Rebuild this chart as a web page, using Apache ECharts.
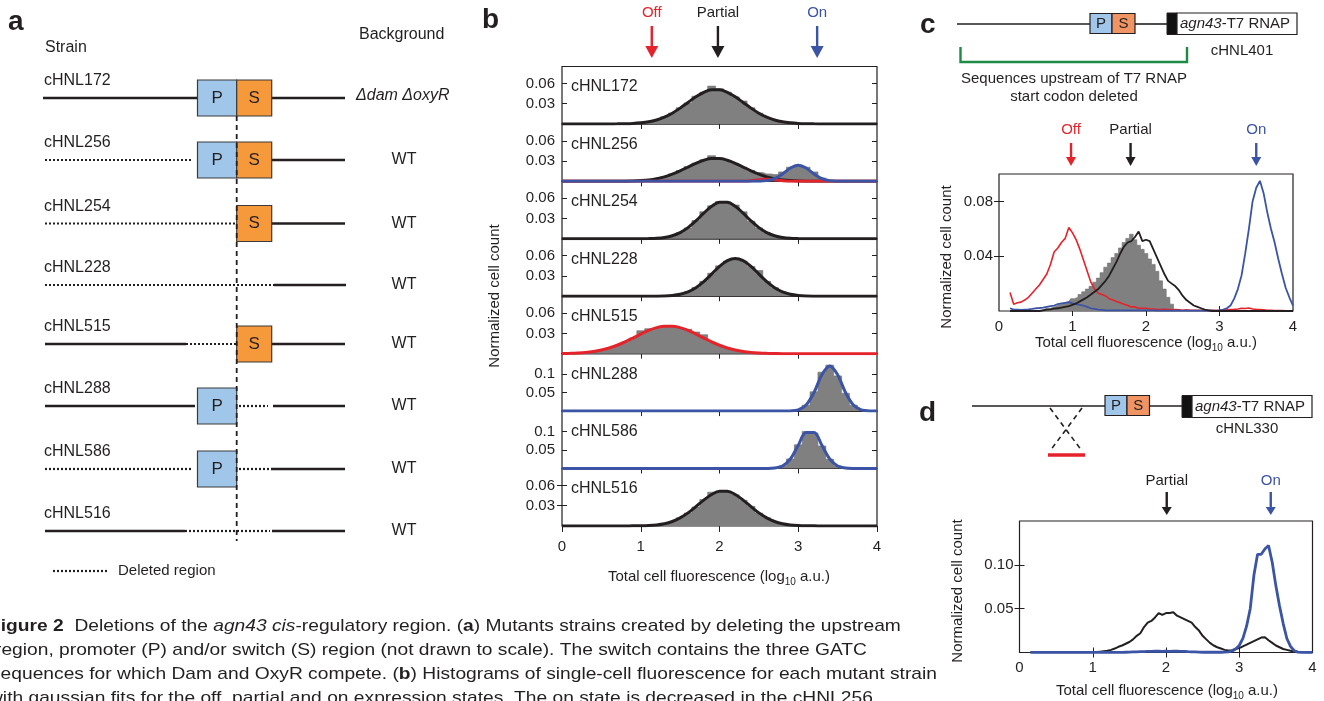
<!DOCTYPE html>
<html>
<head>
<meta charset="utf-8">
<script src="https://cdn.jsdelivr.net/npm/echarts@6.0.0/dist/echarts.min.js"></script>
<style>html,body{margin:0;padding:0;background:#fff;overflow:hidden}#chart{width:1324px;height:701px}</style>
</head>
<body>
<div id="chart"></div>
<script>
// ================= DATA =================
// Panel b: x positions (log10 a.u.) shared by all eight histograms and fits
const XB = [0,0.1,0.2,0.3,0.4,0.5,0.6,0.7,0.8,0.9,1,1.1,1.2,1.3,1.4,1.5,1.6,1.7,1.8,1.9,2,2.1,2.2,2.3,2.4,2.5,2.6,2.7,2.8,2.9,3,3.1,3.2,3.3,3.4,3.5,3.6,3.7,3.8,3.9,4];
const STRAINS = ['cHNL172','cHNL256','cHNL254','cHNL228','cHNL515','cHNL288','cHNL586','cHNL516'];
const BACKGROUNDS = ['\u0394dam \u0394oxyR','WT','WT','WT','WT','WT','WT','WT'];

const HIST_172 = [0,0,0,0,0,0,0,0,0,0.0006,0.0015,0.003,0.006,0.0105,0.016,0.024,0.031,0.041,0.047,0.056,0.052,0.047,0.040,0.034,0.024,0.016,0.0095,0.0055,0.003,0.0015,0.0006,0,0,0,0,0,0,0,0,0,0];
const FIT_172  = [0,0,0,0,0,0,0,0.0001,0.0003,0.0007,0.0016,0.0031,0.0058,0.0100,0.0159,0.0234,0.0318,0.0401,0.0468,0.0505,0.0505,0.0468,0.0401,0.0318,0.0234,0.0159,0.0100,0.0058,0.0031,0.0016,0.0007,0.0003,0.0001,0,0,0,0,0,0,0,0];

const HIST_256 = [0,0,0,0,0,0,0,0,0,0.0004,0.001,0.002,0.004,0.007,0.011,0.016,0.022,0.027,0.032,0.038,0.034,0.031,0.026,0.021,0.016,0.013,0.011,0.010,0.014,0.021,0.024,0.021,0.014,0.005,0.0012,0.0003,0,0,0,0,0];
const FIT_256_PARTIAL = [0,0,0,0,0,0,0,0.0001,0.0002,0.0005,0.0011,0.0021,0.0039,0.0067,0.0106,0.0156,0.0212,0.0267,0.0312,0.0337,0.0337,0.0312,0.0267,0.0212,0.0156,0.0106,0.0067,0.0039,0.0021,0.0011,0.0005,0.0002,0.0001,0,0,0,0,0,0,0,0];
const FIT_256_OFF = [0,0,0,0,0,0,0,0,0,0,0,0,0,0,0,0,0,0,0,0,0,0,0,0,0.001,0.0025,0.003,0.0025,0.001,0,0,0,0,0,0,0,0,0,0,0,0];
const FIT_256_ON = [0,0,0,0,0,0,0,0,0,0,0,0,0,0,0,0,0,0,0,0,0,0,0,0,0,0.0002,0.0011,0.0041,0.011,0.0198,0.024,0.0198,0.011,0.0041,0.0011,0.0002,0,0,0,0,0];

const HIST_254 = [0,0,0,0,0,0,0,0,0,0,0,0,0.0006,0.002,0.0045,0.009,0.016,0.027,0.040,0.049,0.055,0.053,0.050,0.040,0.026,0.016,0.009,0.0045,0.002,0.0006,0,0,0,0,0,0,0,0,0,0,0];
const FIT_254  = [0,0,0,0,0,0,0,0,0,0,0.0001,0.0003,0.0007,0.0019,0.0045,0.0091,0.0165,0.0265,0.0379,0.0481,0.0542,0.0542,0.0481,0.0379,0.0265,0.0165,0.0091,0.0045,0.0019,0.0007,0.0003,0.0001,0,0,0,0,0,0,0,0,0];

const HIST_228 = [0,0,0,0,0,0,0,0,0,0,0,0,0,0,0.001,0.003,0.0065,0.013,0.022,0.034,0.045,0.052,0.055,0.052,0.044,0.038,0.022,0.0125,0.0065,0.003,0.001,0,0,0,0,0,0,0,0,0,0];
const FIT_228  = [0,0,0,0,0,0,0,0,0,0,0,0,0.0001,0.0004,0.0012,0.003,0.0066,0.0127,0.0216,0.0328,0.0441,0.0528,0.056,0.0528,0.0441,0.0328,0.0216,0.0127,0.0066,0.003,0.0012,0.0004,0.0001,0,0,0,0,0,0,0,0];

const HIST_515 = [0,0,0,0.001,0.003,0.005,0.008,0.012,0.017,0.023,0.034,0.037,0.039,0.041,0.040,0.038,0.036,0.032,0.028,0.017,0.012,0.008,0.005,0.003,0.0015,0.0008,0,0,0,0,0,0,0,0,0,0,0,0,0,0,0];
const FIT_515  = [0.0002,0.0005,0.001,0.0018,0.0032,0.0053,0.0083,0.0124,0.0174,0.0231,0.029,0.0344,0.0385,0.0407,0.0407,0.0385,0.0344,0.029,0.0231,0.0174,0.0124,0.0083,0.0053,0.0032,0.0018,0.001,0.0005,0.0002,0,0,0,0,0,0,0,0,0,0,0,0,0];

const HIST_288 = [0,0,0,0,0,0,0,0,0,0,0,0,0,0,0,0,0,0,0,0,0,0,0,0,0,0,0,0,0,0,0.003,0.016,0.052,0.105,0.124,0.095,0.048,0.016,0.003,0,0];
const FIT_288  = [0,0,0,0,0,0,0,0,0,0,0,0,0,0,0,0,0,0,0,0,0,0,0,0,0,0,0,0,0,0.0005,0.0035,0.0165,0.050,0.098,0.122,0.098,0.050,0.0165,0.0035,0.0005,0];

const HIST_586 = [0,0,0,0,0,0,0,0,0,0,0,0,0,0,0,0,0,0,0,0,0,0,0,0,0,0,0,0.001,0.007,0.026,0.064,0.100,0.096,0.061,0.025,0.007,0.001,0,0,0,0];
const FIT_586  = [0,0,0,0,0,0,0,0,0,0,0,0,0,0,0,0,0,0,0,0,0,0,0,0,0,0,0.0001,0.0011,0.0068,0.0256,0.0625,0.0974,0.0974,0.0625,0.0256,0.0068,0.0011,0.0001,0,0,0];

const HIST_516 = [0,0,0,0,0,0,0,0,0,0,0,0.0005,0.0015,0.003,0.0065,0.012,0.019,0.028,0.039,0.050,0.052,0.051,0.046,0.038,0.029,0.019,0.012,0.0065,0.003,0.0015,0.0005,0,0,0,0,0,0,0,0,0,0];
const FIT_516  = [0,0,0,0,0,0,0,0,0,0.0001,0.0002,0.0006,0.0015,0.0033,0.0066,0.0119,0.0193,0.0286,0.0383,0.0466,0.0514,0.0514,0.0466,0.0383,0.0286,0.0193,0.0119,0.0066,0.0033,0.0015,0.0006,0.0002,0.0001,0,0,0,0,0,0,0,0];

// Panels c and d: x positions shared by their curves
const XC = [0.15,0.2,0.25,0.3,0.35,0.4,0.45,0.5,0.55,0.6,
            0.65,0.7,0.75,0.8,0.85,0.9,0.95,1,1.05,1.1,
            1.15,1.2,1.25,1.3,1.35,1.4,1.45,1.5,1.55,1.6,
            1.65,1.7,1.75,1.8,1.85,1.9,1.95,2,2.05,2.1,
            2.15,2.2,2.25,2.3,2.35,2.4,2.45,2.5,2.55,2.6,
            2.65,2.7,2.75,2.8,2.85,2.9,2.95,3,3.05,3.1,
            3.15,3.2,3.25,3.3,3.35,3.4,3.45,3.5,3.55,3.6,
            3.65,3.7,3.75,3.8,3.85,3.9,3.95,4];
const HIST_C = [0,0,0,0,0,0,0,0,0,0.001,
                0.002,0.002,0.003,0.004,0.005,0.006,0.007,0.009,0.010,0.012,
                0.014,0.016,0.018,0.021,0.024,0.028,0.032,0.035,0.039,0.042,
                0.046,0.050,0.053,0.056,0.052,0.048,0.045,0.042,0.038,0.034,
                0.029,0.022,0.016,0.010,0.005,0.001,0,0,0,0,
                0,0,0,0,0,0,0,0,0,0,
                0,0,0,0,0,0,0,0,0,0,
                0,0,0,0,0,0,0,0];
const OFF_C = [0.0135,0.005,0.006,0.0065,0.008,0.010,0.013,0.016,0.019,0.023,
               0.027,0.034,0.043,0.046,0.050,0.053,0.061,0.057,0.052,0.045,
               0.037,0.029,0.021,0.016,0.013,0.012,0.011,0.009,0.008,0.007,
               0.006,0.005,0.004,0.003,0.003,0.002,0.002,0.002,0.0015,0.0015,
               0.001,0.001,0.0012,0.001,0.0008,0.001,0.0008,0.0006,0.0008,0.0006,
               0.0005,0.0006,0.0005,0.0005,0.0004,0.0005,0.0004,0.0005,0.0006,0.0008,
               0.001,0.0012,0.0015,0.002,0.0018,0.0022,0.0015,0.0012,0.001,0.0008,
               0.0006,0.0005,0.0004,0.0003,0.0003,0.0002,0.0002,0.0002];
const PARTIAL_C = [0,0,0,0,0,0,0,0,0,0.0005,
                   0.001,0.0012,0.0018,0.002,0.0025,0.003,0.0035,0.0045,0.0055,0.007,
                   0.0085,0.010,0.012,0.014,0.016,0.019,0.022,0.026,0.031,0.036,
                   0.042,0.047,0.050,0.051,0.054,0.058,0.051,0.052,0.051,0.045,
                   0.039,0.033,0.027,0.022,0.020,0.018,0.015,0.011,0.008,0.006,
                   0.004,0.003,0.002,0.001,0.0005,0,0,0,0,0,
                   0,0,0,0,0,0,0,0,0,0,
                   0,0,0,0,0,0,0,0];
const ON_C = [0.002,0.001,0.001,0.0008,0.001,0.0012,0.0015,0.002,0.0022,0.0025,
              0.003,0.0035,0.004,0.005,0.0055,0.006,0.0065,0.0055,0.005,0.0045,
              0.004,0.003,0.002,0.0015,0.001,0.0008,0.0005,0.0005,0.0004,0.0004,
              0.0004,0.0004,0.0004,0.0004,0.0004,0.0004,0.0004,0.0004,0.0004,0.0004,
              0.0003,0.0003,0.0003,0.0003,0.0003,0.0003,0.0003,0.0003,0.0003,0.0003,
              0.0003,0.0003,0.0003,0.0003,0.0003,0.0003,0.0003,0.0005,0.001,0.002,
              0.004,0.009,0.016,0.026,0.042,0.060,0.080,0.090,0.095,0.086,
              0.072,0.060,0.050,0.038,0.027,0.017,0.010,0.004];
const PARTIAL_D = [0.0002,0.0002,0.0002,0.0002,0.0002,0.0002,0.0002,0.0002,0.0002,0.0002,
                   0.0002,0.0002,0.0002,0.0002,0.0002,0.0002,0.0002,0.0003,0.0005,0.001,
                   0.0015,0.002,0.003,0.0045,0.0065,0.008,0.010,0.012,0.015,0.019,
                   0.022,0.029,0.034,0.036,0.040,0.045,0.043,0.045,0.045,0.046,
                   0.042,0.040,0.038,0.036,0.034,0.029,0.025,0.019,0.015,0.011,
                   0.008,0.006,0.0045,0.003,0.0023,0.0025,0.004,0.005,0.007,0.009,
                   0.011,0.013,0.015,0.017,0.0175,0.014,0.011,0.008,0.006,0.004,
                   0.003,0.002,0.0012,0.0008,0.0005,0.0003,0.0002,0.0001];
const ON_D = [0.0002,0.0002,0.0002,0.0002,0.0002,0.0002,0.0002,0.0002,0.0002,0.0002,
              0.0002,0.0002,0.0002,0.0002,0.0002,0.0002,0.0002,0.0002,0.0002,0.0002,
              0.0002,0.0002,0.0002,0.0002,0.0002,0.0002,0.0003,0.0004,0.0006,0.0008,
              0.001,0.001,0.0012,0.0012,0.0015,0.0014,0.0013,0.0015,0.0012,0.0014,
              0.0015,0.0012,0.0013,0.001,0.0008,0.0006,0.0004,0.0003,0.0003,0.0003,
              0.0003,0.0003,0.0003,0.0004,0.0008,0.0015,0.004,0.008,0.016,0.030,
              0.050,0.088,0.112,0.112,0.118,0.122,0.103,0.076,0.053,0.033,
              0.016,0.007,0.002,0.0005,0.0002,0.0002,0.0002,0.0002];

// Tick values / labels
const X_TICKS = [0,1,2,3,4];
const X_INNER_TICKS = [1,2,3];
const Y_TICKS_B_SMALL = [0.03,0.06];
const Y_TICKS_B_LARGE = [0.05,0.1];
const Y_TICKS_C = [0.04,0.08];
const Y_TICKS_D = [0.05,0.10];
const STATE_LABELS = ['Off','Partial','On'];
const ARROW_B = [1.14,1.98,3.24];
const ARROW_C = [0.98,1.79,3.5];
const ARROW_D = [2.01,3.43];   // Partial, On

// ================= STYLE / LAYOUT =================
const INK='#231f20', RED='#e5232b', BLUE='#3b54a5', GRAY='#808080', GREEN='#1e8b45';
const PBLUE='#a0c7ea', SORANGE='#f5993b', SSALMON='#f19463';
const FONT='"Liberation Sans", Arial, Helvetica, sans-serif';
const CAPFONT='"Liberation Sans", Arial, Helvetica, sans-serif';
const STATE_COLORS=[RED,INK,BLUE];

function zip(xs,ys){return xs.map((x,i)=>[x,ys[i]]);}

const PANELS=[
  {hist:HIST_172,fits:[[FIT_172,INK]],ymax:0.085,yt:Y_TICKS_B_SMALL},
  {hist:HIST_256,fits:[[FIT_256_PARTIAL,INK],[FIT_256_OFF,RED],[FIT_256_ON,BLUE]],ymax:0.085,yt:Y_TICKS_B_SMALL},
  {hist:HIST_254,fits:[[FIT_254,INK]],ymax:0.085,yt:Y_TICKS_B_SMALL},
  {hist:HIST_228,fits:[[FIT_228,INK]],ymax:0.085,yt:Y_TICKS_B_SMALL},
  {hist:HIST_515,fits:[[FIT_515,RED]],ymax:0.085,yt:Y_TICKS_B_SMALL},
  {hist:HIST_288,fits:[[FIT_288,BLUE]],ymax:0.155,yt:Y_TICKS_B_LARGE},
  {hist:HIST_586,fits:[[FIT_586,BLUE]],ymax:0.155,yt:Y_TICKS_B_LARGE},
  {hist:HIST_516,fits:[[FIT_516,INK]],ymax:0.085,yt:Y_TICKS_B_SMALL}
];

const grids=[],xAxes=[],yAxes=[],series=[];
function xAxisDef(gi,pos,ticks,labels,inside,len,margin){
  return {gridIndex:gi,type:'value',min:0,max:4,position:pos,
    axisLine:{show:false},splitLine:{show:false},
    axisTick:{show:true,inside:inside,length:len,lineStyle:{color:INK,width:1},customValues:ticks},
    axisLabel:labels?{show:true,customValues:labels,color:INK,fontSize:15,fontFamily:FONT,margin:margin}:{show:false}};
}
function yAxisDef(gi,pos,max,ticks,showLabels,fmt,margin){
  return {gridIndex:gi,type:'value',min:0,max:max,position:pos,
    axisLine:{show:false},splitLine:{show:false},
    axisTick:{show:true,inside:true,length:5,lineStyle:{color:INK,width:1},customValues:ticks},
    axisLabel:showLabels?{show:true,customValues:ticks,color:INK,fontSize:15,fontFamily:FONT,margin:margin,formatter:fmt}:{show:false}};
}
function histSeries(xs,ys,xi,yi){
  return {type:'line',xAxisIndex:xi,yAxisIndex:yi,data:zip(xs,ys),step:'middle',symbol:'none',silent:true,
    lineStyle:{width:0.6,color:'#707070'},areaStyle:{color:GRAY,opacity:1},z:2};
}
function curveSeries(xs,ys,color,xi,yi,w,smooth){
  return {type:'line',xAxisIndex:xi,yAxisIndex:yi,data:zip(xs,ys),symbol:'none',silent:true,smooth:smooth,
    lineStyle:{width:w,color:color},z:3};
}

const B_LEFT=562,B_W=315,B_TOP=66.5,B_H=57.43;
const xIdx={};
PANELS.forEach((p,i)=>{
  grids.push({left:B_LEFT,top:B_TOP+i*B_H,width:B_W,height:B_H,show:true,borderColor:INK,borderWidth:1.2,backgroundColor:'rgba(0,0,0,0)',containLabel:false,outerBoundsMode:'none'});
  const xi=xAxes.length;
  xAxes.push(xAxisDef(i,'top',X_INNER_TICKS,null,true,5,0));
  if(i===PANELS.length-1) xAxes.push(xAxisDef(i,'bottom',X_TICKS,X_TICKS,false,6,13));
  const yi=yAxes.length;
  yAxes.push(yAxisDef(i,'left',p.ymax,p.yt,true,v=>String(v),7));
  yAxes.push(yAxisDef(i,'right',p.ymax,p.yt,false,null,0));
  if(i===0) xIdx.b=xi;
  series.push(histSeries(XB,p.hist,xi,yi));
  p.fits.forEach(f=>series.push(curveSeries(XB,f[0],f[1],xi,yi,3,0.35)));
});

// panel c
const C_GRID={left:999,top:174,width:294,height:137};
grids.push(Object.assign({show:true,borderColor:INK,borderWidth:1.2,containLabel:false,outerBoundsMode:'none'},C_GRID));
let gi=grids.length-1;
xIdx.c=xAxes.length;
xAxes.push(xAxisDef(gi,'bottom',X_INNER_TICKS,X_TICKS,true,5,8));
xAxes.push(xAxisDef(gi,'top',X_INNER_TICKS,null,true,5,0));
let yi=yAxes.length;
yAxes.push(yAxisDef(gi,'left',0.1,Y_TICKS_C,true,v=>v.toFixed(2),6));
yAxes.push(yAxisDef(gi,'right',0.1,Y_TICKS_C,false,null,0));
series.push(histSeries(XC,HIST_C,xIdx.c,yi));
series.push(curveSeries(XC,OFF_C,RED,xIdx.c,yi,1.6,false));
series.push(curveSeries(XC,ON_C,BLUE,xIdx.c,yi,1.8,false));
series.push(curveSeries(XC,PARTIAL_C,INK,xIdx.c,yi,1.8,false));

// panel d
const D_GRID={left:1019.5,top:521,width:293,height:131.5};
grids.push(Object.assign({show:true,borderColor:INK,borderWidth:1.2,containLabel:false,outerBoundsMode:'none'},D_GRID));
gi=grids.length-1;
xIdx.d=xAxes.length;
xAxes.push(xAxisDef(gi,'bottom',X_INNER_TICKS,X_TICKS,true,5,8));
xAxes.push(xAxisDef(gi,'top',X_INNER_TICKS,null,true,5,0));
yi=yAxes.length;
yAxes.push(yAxisDef(gi,'left',0.15,Y_TICKS_D,true,v=>v.toFixed(2),6));
yAxes.push(yAxisDef(gi,'right',0.15,Y_TICKS_D,false,null,0));
series.push(curveSeries(XC,PARTIAL_D,INK,xIdx.d,yi,2,false));
series.push(curveSeries(XC,ON_D,BLUE,xIdx.d,yi,2.8,false));

const chart=echarts.init(document.getElementById('chart'),null,{renderer:'canvas',width:1324,height:701});
chart.setOption({animation:false,backgroundColor:'#ffffff',textStyle:{fontFamily:FONT},
  grid:grids,xAxis:xAxes,yAxis:yAxes,series:series});

// ================= ANNOTATIONS (graphic) =================
const G=[];
function txt(x,y,text,o){o=o||{};
  const st={text:text,fill:o.color||INK,fontSize:o.size||16,fontFamily:o.family||FONT,fontWeight:o.weight||'normal',fontStyle:o.fstyle||'normal',
    align:o.align||'left',textAlign:o.align||'left',verticalAlign:'middle',textVerticalAlign:'middle'};
  if(o.rich) st.rich=o.rich;
  if(o.lineHeight) st.lineHeight=o.lineHeight;
  const el={type:'text',x:x,y:y,rotation:o.rotation||0,silent:true,z:100,style:st};
  if(o.scaleX) el.scaleX=o.scaleX;
  G.push(el);
}
function seg(x1,y1,x2,y2,color,w,dash){const st={stroke:color,lineWidth:w};if(dash)st.lineDash=dash;
  G.push({type:'line',silent:true,z:100,shape:{x1:x1,y1:y1,x2:x2,y2:y2},style:st});}
function box(x,y,w,h,fill,stroke,lw){G.push({type:'rect',silent:true,z:100,shape:{x:x,y:y,width:w,height:h},style:{fill:fill,stroke:stroke,lineWidth:lw}});}
function tri(pts,fill){G.push({type:'polygon',silent:true,z:100,shape:{points:pts},style:{fill:fill}});}
function poly(pts,color,w){G.push({type:'polyline',silent:true,z:100,shape:{points:pts},style:{stroke:color,lineWidth:w,fill:null}});}
function arrow(px,labelY,y1,yh,yTip,hw,color,label){
  txt(px,labelY,label,{color:color,size:15,align:'center'});
  seg(px,y1,px,yh+1,color,2.4);
  tri([[px-hw,yh],[px+hw,yh],[px,yTip]],color);
}
const SUB={s:{fontSize:10,fontFamily:FONT,fill:INK,color:INK,verticalAlign:'bottom'}};
const XTITLE='Total cell fluorescence (log{s|10} a.u.)';

// panel letters
txt(8,22,'a',{size:28,weight:'bold'});
txt(482,20,'b',{size:28,weight:'bold'});
txt(920,25,'c',{size:28,weight:'bold'});
txt(919,413,'d',{size:28,weight:'bold'});

// ---- panel a schematic ----
const A_ROW_Y=[98,160,223.5,285,344,406,469,531];
const A_SEGS=[
  [[43,198,0],[272,345,0]],
  [[45,192,1],[272,345,0]],
  [[45,236,1],[272,345,0]],
  [[45,274,1],[274,346,0]],
  [[45,186,0],[186,236,1],[272,345,0]],
  [[45,195,0],[239,268,1],[273,345,0]],
  [[45,193,1],[239,270,1],[271,345,0]],
  [[45,185,0],[185,270,1],[272,345,0]]
];
const A_BOXES=['PS','PS','S','','S','P','P',''];
txt(45,48,'Strain',{size:16});
txt(359,35,'Background',{size:16});
A_ROW_Y.forEach((y,i)=>{
  txt(44,y-17,STRAINS[i],{size:16});
  A_SEGS[i].forEach(s=>seg(s[0],y,s[1],y,INK,s[2]?2.2:2.6,s[2]?[2,2]:null));
  if(A_BOXES[i].indexOf('P')>=0){box(197.5,y-18,39.2,36,PBLUE,'#3a3a3a',1.2);txt(217.1,y,'P',{size:17,align:'center'});}
  if(A_BOXES[i].indexOf('S')>=0){box(236.7,y-18,35,36,SORANGE,'#3a3a3a',1.2);txt(254.2,y,'S',{size:17,align:'center'});}
  if(i===0) txt(356,y-2,BACKGROUNDS[i],{size:16,fstyle:'italic'});
  else txt(404,y,BACKGROUNDS[i],{size:16,align:'center'});
});
seg(236.7,116,236.7,541,INK,1.8,[5,4]);
seg(53,571,108,571,INK,2.2,[2,2]);
txt(118,571,'Deleted region',{size:15});

// ---- panel b labels ----
STRAINS.forEach((s,i)=>txt(571,B_TOP+i*B_H+20.5,s,{size:16}));
txt(495,296,'Normalized cell count',{size:15,align:'center',rotation:Math.PI/2});
txt(719,577,XTITLE,{size:15,align:'center',rich:SUB,lineHeight:20});

// ---- panel c schematic ----
seg(957,24,1090,24,INK,1.6);
box(1090,13.5,22,20,PBLUE,INK,1.2);txt(1101,24,'P',{size:15,align:'center'});
box(1112,13.5,23,20,SSALMON,INK,1.2);txt(1123.5,24,'S',{size:15,align:'center'});
seg(1135,24,1167,24,INK,1.6);
box(1167,13,10,21.5,'#111111',INK,1);
box(1177,13,120,21.5,'#ffffff',INK,1.2);
txt(1180,24,'{i|agn43}-T7 RNAP',{size:15,rich:{i:{fontStyle:'italic',fontSize:15,fontFamily:FONT,fill:INK,color:INK}}});
txt(1242,51,'cHNL401',{size:15,align:'center'});
poly([[960.5,47],[960.5,62],[1187,62],[1187,47]],GREEN,2.4);
txt(1074,79,'Sequences upstream of T7 RNAP',{size:15,align:'center'});
txt(1074,97,'start codon deleted',{size:15,align:'center'});
txt(947,257,'Normalized cell count',{size:15,align:'center',rotation:Math.PI/2});
txt(1146,343,XTITLE,{size:15,align:'center',rich:SUB,lineHeight:20});

// ---- panel d schematic ----
seg(972,406,1105,406,INK,1.6);
box(1105,395.5,22,20,PBLUE,INK,1.2);txt(1116,406,'P',{size:15,align:'center'});
box(1127,395.5,22.5,20,SSALMON,INK,1.2);txt(1138.3,406,'S',{size:15,align:'center'});
seg(1149.5,406,1182,406,INK,1.6);
box(1182,395.5,10,22,'#111111',INK,1);
box(1192,395.5,120,22,'#ffffff',INK,1.2);
txt(1195,406.5,'{i|agn43}-T7 RNAP',{size:15,rich:{i:{fontStyle:'italic',fontSize:15,fontFamily:FONT,fill:INK,color:INK}}});
txt(1247,429,'cHNL330',{size:15,align:'center'});
seg(1050,408,1082,451,INK,1.6,[5,4]);
seg(1082,408,1050,451,INK,1.6,[5,4]);
seg(1048,455,1085,455,RED,3.5);
txt(958,591,'Normalized cell count',{size:15,align:'center',rotation:Math.PI/2});
txt(1167,691,XTITLE,{size:15,align:'center',rich:SUB,lineHeight:20});

// ---- state arrows (positioned through the axes) ----
ARROW_B.forEach((v,k)=>{const px=chart.convertToPixel({xAxisIndex:xIdx.b},v);arrow(px,13,26,46,58,6.5,STATE_COLORS[k],STATE_LABELS[k]);});
ARROW_C.forEach((v,k)=>{const px=chart.convertToPixel({xAxisIndex:xIdx.c},v);arrow(px,130,143,157,166,5,STATE_COLORS[k],STATE_LABELS[k]);});
ARROW_D.forEach((v,k)=>{const px=chart.convertToPixel({xAxisIndex:xIdx.d},v);arrow(px,481,492,507,515,5,STATE_COLORS[k+1],STATE_LABELS[k+1]);});

// ---- caption ----
const CS=17;
const CAPRICH={b:{fontFamily:CAPFONT,fontSize:CS,fontWeight:'bold',fill:INK,color:INK},i:{fontFamily:CAPFONT,fontSize:CS,fontStyle:'italic',fill:INK,color:INK}};
const CAPTION=[
  '{b|Figure 2}  Deletions of the {i|agn43 cis}-regulatory region. ({b|a}) Mutants strains created by deleting the upstream',
  'region, promoter (P) and/or switch (S) region (not drawn to scale). The switch contains the three GATC',
  'sequences for which Dam and OxyR compete. ({b|b}) Histograms of single-cell fluorescence for each mutant strain',
  'with gaussian fits for the off, partial and on expression states. The on state is decreased in the cHNL256'
];
const CAP_X=[-11,-5,-9,-11], CAP_Y=[626.5,650.5,674.5,698.5];
CAPTION.forEach((t,i)=>txt(CAP_X[i],CAP_Y[i],t,{size:CS,family:CAPFONT,rich:CAPRICH,scaleX:1.13}));

chart.setOption({graphic:{elements:G}});
</script>
</body>
</html>
